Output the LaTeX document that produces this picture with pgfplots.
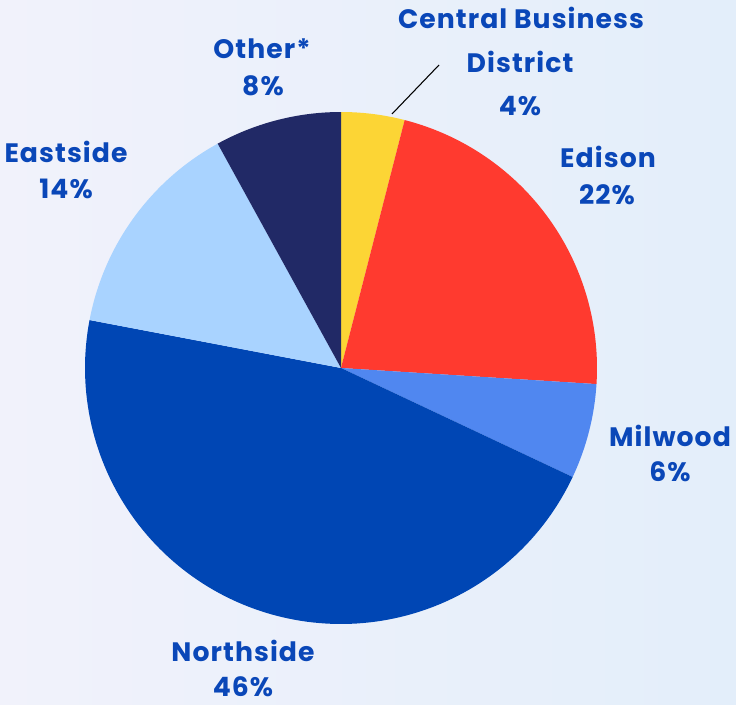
\documentclass[border=0pt]{standalone}
\usepackage{fontspec}
\setmainfont{Poppins}
\newfontfamily\labfont{Poppins}[LetterSpace=4]
\usepackage{pgfplots}
\pgfplotsset{compat=1.18}
\definecolor{bgA}{HTML}{F1F2FB}
\definecolor{bgB}{HTML}{E3EEFA}
\definecolor{cCBD}{HTML}{FCD535}
\definecolor{cEdison}{HTML}{FF3A2F}
\definecolor{cMilwood}{HTML}{5087F0}
\definecolor{cNorth}{HTML}{0046B4}
\definecolor{cEast}{HTML}{A9D3FF}
\definecolor{cOther}{HTML}{212966}
\definecolor{lbl}{HTML}{0A47B8}
% shares (percent), clockwise from 12 o'clock
\def\pCBD{4}\def\pEdison{22}\def\pMilwood{6}\def\pNorth{46}\def\pEast{14}\def\pOther{8}
\pgfmathsetmacro\aA{90}
\pgfmathsetmacro\aB{\aA-3.6*\pCBD}
\pgfmathsetmacro\aC{\aB-3.6*\pEdison}
\pgfmathsetmacro\aD{\aC-3.6*\pMilwood}
\pgfmathsetmacro\aE{\aD-3.6*\pNorth}
\pgfmathsetmacro\aF{\aE-3.6*\pEast}
\pgfmathsetmacro\aG{\aF-3.6*\pOther}
\def\cx{341}\def\cy{336}\def\R{256}
\tikzset{lab/.style={anchor=base, font=\labfont\fontsize{20}{24}\selectfont\bfseries, text=lbl, inner sep=0pt}}
\begin{document}
\begin{tikzpicture}
\begin{axis}[
  width=552pt, height=528pt, scale only axis,
  xmin=0, xmax=736, ymin=0, ymax=704,
  axis lines=none, ticks=none,
  axis background/.style={left color=bgA, right color=bgB},
  clip=false,
]
\addplot[fill=cCBD, draw=none, domain=\aB:\aA, samples=40, variable=\t] ({\cx+\R*cos(\t)},{\cy+\R*sin(\t)}) -- (axis cs:\cx,\cy) -- cycle;
\addplot[fill=cEdison, draw=none, domain=\aC:\aB, samples=80, variable=\t] ({\cx+\R*cos(\t)},{\cy+\R*sin(\t)}) -- (axis cs:\cx,\cy) -- cycle;
\addplot[fill=cMilwood, draw=none, domain=\aD:\aC, samples=40, variable=\t] ({\cx+\R*cos(\t)},{\cy+\R*sin(\t)}) -- (axis cs:\cx,\cy) -- cycle;
\addplot[fill=cNorth, draw=none, domain=\aE:\aD, samples=120, variable=\t] ({\cx+\R*cos(\t)},{\cy+\R*sin(\t)}) -- (axis cs:\cx,\cy) -- cycle;
\addplot[fill=cEast, draw=none, domain=\aF:\aE, samples=60, variable=\t] ({\cx+\R*cos(\t)},{\cy+\R*sin(\t)}) -- (axis cs:\cx,\cy) -- cycle;
\addplot[fill=cOther, draw=none, domain=\aG:\aF, samples=40, variable=\t] ({\cx+\R*cos(\t)},{\cy+\R*sin(\t)}) -- (axis cs:\cx,\cy) -- cycle;
% leader line
\addplot[black, line width=0.8pt] coordinates {(392,590) (439,639)};
% labels (baselines)
\node[lab] at (axis cs:521,675) {Central Business};
\node[lab] at (axis cs:520,631) {District};
\node[lab] at (axis cs:520,588) {4\%};
\node[lab] at (axis cs:262,645) {Other*};
\node[lab] at (axis cs:263,608) {8\%};
\node[lab] at (axis cs:608,536) {Edison};
\node[lab] at (axis cs:607,499) {22\%};
\node[lab] at (axis cs:66,541) {Eastside};
\node[lab] at (axis cs:66,505) {14\%};
\node[lab] at (axis cs:670,257) {Milwood};
\node[lab] at (axis cs:670,222) {6\%};
\node[lab] at (axis cs:243,42) {Northside};
\node[lab] at (axis cs:243,8) {46\%};
\end{axis}
\end{tikzpicture}
\end{document}
